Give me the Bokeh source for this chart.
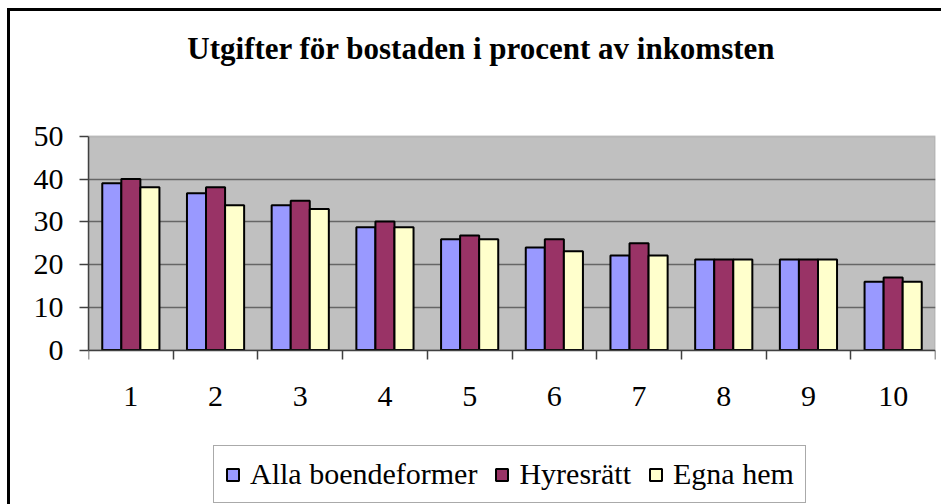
from bokeh.plotting import figure
from bokeh.models import (ColumnDataSource, Range1d, FixedTicker, Legend, LegendItem,
                          BoxAnnotation, Label)
from bokeh.transform import dodge
from bokeh.embed import file_html
from bokeh.resources import INLINE

# ---- data ----
categories = ["1", "2", "3", "4", "5", "6", "7", "8", "9", "10"]
alla = [39.0, 36.7, 33.9, 28.7, 25.9, 24.0, 22.1, 21.2, 21.2, 16.0]
hyres = [40.0, 38.1, 34.9, 30.1, 26.8, 25.9, 25.0, 21.2, 21.2, 17.0]
egna = [38.1, 33.9, 33.0, 28.7, 25.9, 23.1, 22.1, 21.2, 21.2, 16.0]
series_names = ["Alla boendeformer", "Hyresrätt", "Egna hem"]
series_colors = ["#9999FF", "#993366", "#FFFFCC"]
y_ticks = [0, 10, 20, 30, 40, 50]
title_text = "Utgifter för bostaden i procent av inkomsten"

FONT = "Liberation Serif"
Y_MIN, Y_MAX = 0, 50

xpos = list(range(1, len(categories) + 1))
src = ColumnDataSource(dict(x=xpos, alla=alla, hyres=hyres, egna=egna))

# frame spans whole canvas height; value range 0..50 occupies the middle band
p = figure(width=931, height=493, output_backend="svg", toolbar_location=None,
           x_range=Range1d(0.5, len(categories) + 0.5), y_range=Range1d(-36.6, 79.2),
           min_border_left=78, min_border_right=9, min_border_top=0,
           min_border_bottom=1)
p.styles = {"margin-left": "7px", "margin-top": "8px",
            "border-left": "3px solid black", "border-top": "3px solid black",
            "box-sizing": "content-box"}
p.title.visible = False

p.background_fill_color = "white"
p.border_fill_color = "white"
p.outline_line_color = None

plot_area = BoxAnnotation(bottom=Y_MIN, top=Y_MAX, fill_color="#C0C0C0", fill_alpha=1,
                          line_color="#808080", line_width=2, level="image")
p.add_layout(plot_area)

bw = 0.225
cols = ["alla", "hyres", "egna"]
offsets = [-bw, 0, bw]
renderers = []
for col, off, c in zip(cols, offsets, series_colors):
    r = p.vbar(x=dodge("x", off, range=p.x_range), top=col, width=bw, source=src,
               fill_color=c, line_color="black", line_width=2)
    renderers.append(r)

# grid
p.xgrid.visible = False
p.ygrid.ticker = FixedTicker(ticks=y_ticks[1:-1])
p.ygrid.grid_line_color = "#666666"
p.ygrid.grid_line_width = 1.5

# y axis
p.yaxis.ticker = FixedTicker(ticks=y_ticks)
p.yaxis.bounds = (Y_MIN, Y_MAX)
p.yaxis.major_label_text_font = FONT
p.yaxis.major_label_text_font_size = "30px"
p.yaxis.major_label_text_color = "black"
p.yaxis.axis_line_color = "#404040"
p.yaxis.axis_line_width = 1.5
p.yaxis.major_tick_line_color = "#404040"
p.yaxis.major_tick_line_width = 1.5
p.yaxis.major_tick_out = 9
p.yaxis.major_tick_in = 0
p.yaxis.minor_tick_line_color = None
p.yaxis.major_label_standoff = 16

# x axis, fixed at y = 0
p.xaxis.fixed_location = Y_MIN
p.xaxis.ticker = FixedTicker(ticks=xpos, minor_ticks=[i + 0.5 for i in range(len(categories) + 1)])
p.xaxis.major_label_overrides = {x: c for x, c in zip(xpos, categories)}
p.xaxis.major_label_text_font = FONT
p.xaxis.major_label_text_font_size = "30px"
p.xaxis.major_label_text_color = "black"
p.xaxis.axis_line_color = "#404040"
p.xaxis.axis_line_width = 1.5
p.xaxis.major_tick_line_color = None
p.xaxis.major_tick_out = 0
p.xaxis.major_tick_in = 0
p.xaxis.minor_tick_line_color = "#404040"
p.xaxis.minor_tick_line_width = 1.5
p.xaxis.minor_tick_out = 9
p.xaxis.minor_tick_in = 0
p.xaxis.major_label_standoff = 28

# title as a label above the value band
title = Label(x=5.14, y=70.6, text=title_text, text_align="center",
              text_baseline="alphabetic", text_font=FONT, text_font_size="31px",
              text_font_style="bold", text_color="black")
p.add_layout(title)

legend = Legend(items=[LegendItem(label=n, renderers=[r]) for n, r in zip(series_names, renderers)],
                orientation="horizontal", location=(125, 3))
legend.label_text_font = FONT
legend.label_text_font_size = "30px"
legend.label_text_color = "black"
legend.glyph_width = 15
legend.glyph_height = 15
legend.label_standoff = 10
legend.spacing = 17
legend.padding = 11
legend.margin = 0
legend.border_line_color = "#555555"
legend.border_line_width = 1.5
legend.background_fill_color = "white"
legend.background_fill_alpha = 1
p.add_layout(legend, "center")

open("out.html", "w").write(file_html(p, INLINE))
